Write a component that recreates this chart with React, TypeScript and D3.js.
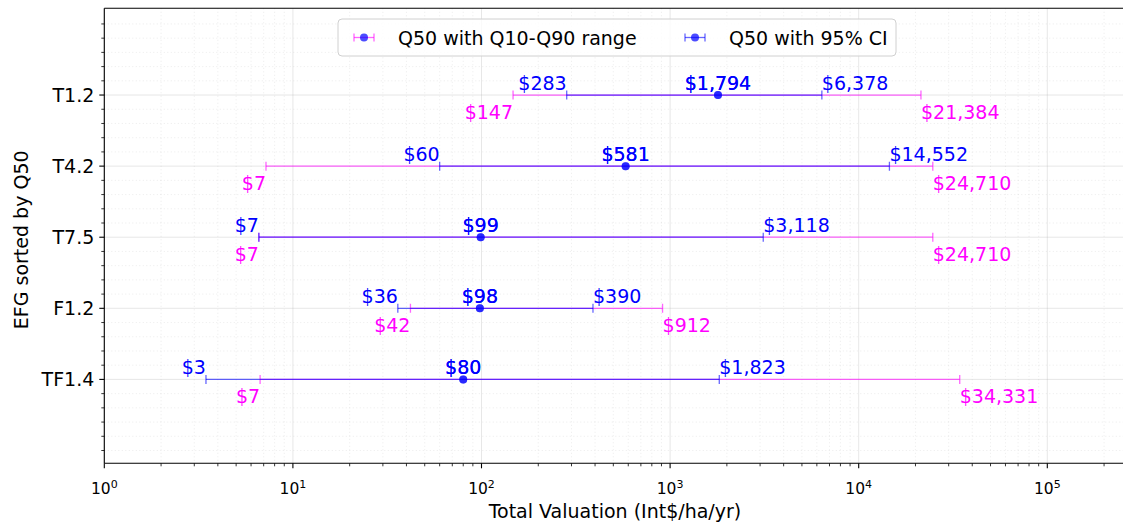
import React from "react";
import * as d3 from "d3";

const categories = ["TF1.4", "F1.2", "T7.5", "T4.2", "T1.2"];
const q50 = [80, 98, 99, 581, 1794];
const q10 = [6.7, 42, 6.6, 7.2, 147];
const q90 = [34331, 912, 24710, 24710, 21384];
const ciLow = [3.46, 36, 6.6, 60, 283];
const ciHigh = [1823, 390, 3118, 14552, 6378];
const xTickExps = [0, 1, 2, 3, 4, 5];
const legendLabels = ["Q50 with Q10-Q90 range", "Q50 with 95% CI"];

const W = 1123;
const H = 526;
const FONT = "DejaVu Sans, sans-serif";
const BLUE = "#0000ff";
const MAG = "#ff00ff";
const FS = 19;

export default function App() {
  const x = d3.scaleLog().domain([1, 2.6e5]).range([104.3, 104.3 + 188.6 * Math.log10(2.6e5)]);
  const y = d3.scaleLinear().domain([-1.18, 5.22]).range([463.3, 8.3]);
  const [x0, x1] = x.range();
  const yTop = y.range()[1];
  const yBot = y.range()[0];
  const fmt = (v: number) => "$" + d3.format(",.0f")(v);

  const minorX: number[] = [];
  for (let e = 0; e <= 5; e++) for (let m = 2; m <= 9; m++) {
    const v = m * Math.pow(10, e);
    if (v < x.domain()[1]) minorX.push(v);
  }
  const majorY = categories.map((_, i) => i);
  const minorY: number[] = d3.range(-5, 26).map((k) => k / 5).filter((v) => !(Number.isInteger(v) && v >= 0 && v <= 4));

  const cap = 4.5;
  const errbar = (lo: number, hi: number, yy: number, color: string, key: string) => (
    <g key={key} stroke={color} strokeOpacity={0.6} strokeWidth={1.3}>
      <line x1={x(lo)} x2={x(hi)} y1={y(yy)} y2={y(yy)} />
      <line x1={x(lo)} x2={x(lo)} y1={y(yy) - cap} y2={y(yy) + cap} />
      <line x1={x(hi)} x2={x(hi)} y1={y(yy) - cap} y2={y(yy) + cap} />
    </g>
  );

  return (
    <svg width={W} height={H} style={{ position: "absolute", left: 0, top: 0, background: "#fff" }} fontFamily={FONT}>
      <defs>
        <clipPath id="plot">
          <rect x={x0} y={yTop} width={x1 - x0} height={yBot - yTop} />
        </clipPath>
      </defs>
      {/* grid */}
      <g>
        {minorX.map((v) => (
          <line key={"mx" + v} x1={x(v)} x2={x(v)} y1={yTop} y2={yBot} stroke="#b0b0b0" strokeOpacity={0.3} strokeWidth={0.8} strokeDasharray="1,2.5" />
        ))}
        {minorY.map((v) => (
          <line key={"my" + v} x1={x0} x2={x1} y1={y(v)} y2={y(v)} stroke="#b0b0b0" strokeOpacity={0.3} strokeWidth={0.8} strokeDasharray="1,2.5" />
        ))}
        {xTickExps.map((e) => (
          <line key={"gx" + e} x1={x(Math.pow(10, e))} x2={x(Math.pow(10, e))} y1={yTop} y2={yBot} stroke="#b0b0b0" strokeOpacity={0.3} strokeWidth={1} />
        ))}
        {majorY.map((v) => (
          <line key={"gy" + v} x1={x0} x2={x1} y1={y(v)} y2={y(v)} stroke="#b0b0b0" strokeOpacity={0.3} strokeWidth={1} />
        ))}
      </g>
      {/* error bars */}
      <g clipPath="url(#plot)">
        {categories.map((c, i) => errbar(q10[i], q90[i], i, MAG, "m" + c))}
        {categories.map((c, i) => (
          <circle key={"md" + c} cx={x(q50[i])} cy={y(i)} r={4} fill={BLUE} fillOpacity={0.6} />
        ))}
        {categories.map((c, i) => errbar(ciLow[i], ciHigh[i], i, BLUE, "b" + c))}
        {categories.map((c, i) => (
          <circle key={"bd" + c} cx={x(q50[i])} cy={y(i)} r={4} fill={BLUE} fillOpacity={0.6} />
        ))}
      </g>
      {/* annotations */}
      <g fontSize={FS}>
        {categories.map((c, i) => (
          <g key={"t" + c}>
            <text x={x(q10[i])} y={y(i) + 24} fill={MAG} textAnchor="end">{fmt(q10[i])}</text>
            <text x={x(q90[i])} y={y(i) + 24} fill={MAG} textAnchor="start">{fmt(q90[i])}</text>
            <text x={x(ciLow[i])} y={y(i) - 5} fill={BLUE} textAnchor="end">{fmt(ciLow[i])}</text>
            <text x={x(ciHigh[i])} y={y(i) - 5} fill={BLUE} textAnchor="start">{fmt(ciHigh[i])}</text>
            <text x={x(q50[i])} y={y(i) - 5} fill={BLUE} textAnchor="middle">{fmt(q50[i])}</text>
            <text x={x(q50[i])} y={y(i) - 5} fill={BLUE} textAnchor="middle">{fmt(q50[i])}</text>
          </g>
        ))}
      </g>
      {/* spines */}
      <line x1={x0} x2={x0} y1={yTop} y2={yBot} stroke="#000" strokeWidth={1.1} />
      <line x1={x0} x2={x1} y1={yBot} y2={yBot} stroke="#000" strokeWidth={1.1} />
      <line x1={x0} x2={x1} y1={yTop} y2={yTop} stroke="#000" strokeWidth={1.1} />
      {/* x ticks */}
      <g>
        {minorX.map((v) => (
          <line key={"tmx" + v} x1={x(v)} x2={x(v)} y1={yBot} y2={yBot + 3} stroke="#000" strokeWidth={0.8} />
        ))}
        {xTickExps.map((e) => (
          <g key={"tx" + e} transform={`translate(${x(Math.pow(10, e))},${yBot})`}>
            <line y1={0} y2={5} stroke="#000" strokeWidth={1.1} />
            <text y={31} textAnchor="middle" fontSize={15.5} fill="#000">
              10<tspan fontSize={11} dy={-6}>{e}</tspan>
            </text>
          </g>
        ))}
      </g>
      {/* y ticks */}
      <g>
        {minorY.map((v) => (
          <line key={"tmy" + v} x1={x0 - 3} x2={x0} y1={y(v)} y2={y(v)} stroke="#000" strokeWidth={0.8} />
        ))}
        {categories.map((c, i) => (
          <g key={"ty" + c} transform={`translate(${x0},${y(i)})`}>
            <line x1={-5} x2={0} stroke="#000" strokeWidth={1.1} />
            <text x={-10} y={7} textAnchor="end" fontSize={FS} fill="#000">{c}</text>
          </g>
        ))}
      </g>
      {/* axis labels */}
      <text x={(x0 + x1) / 2} y={518} textAnchor="middle" fontSize={FS} fill="#000">Total Valuation (Int$/ha/yr)</text>
      <text transform={`translate(28,${(yTop + yBot) / 2 + 4}) rotate(-90)`} textAnchor="middle" fontSize={FS} fill="#000">EFG sorted by Q50</text>
      {/* legend */}
      <g>
        <rect x={338} y={19} width={558} height={37} rx={4} fill="#fff" fillOpacity={0.8} stroke="#d0d0d0" strokeWidth={1} />
        {[MAG, BLUE].map((col, k) => {
          const hx = k === 0 ? 364 : 695;
          const tx = k === 0 ? 398 : 729;
          const ly = 37.5;
          return (
            <g key={"lg" + k}>
              <g stroke={col} strokeOpacity={0.6} strokeWidth={1.3}>
                <line x1={hx - 10} x2={hx + 10} y1={ly} y2={ly} />
                <line x1={hx - 10} x2={hx - 10} y1={ly - 4} y2={ly + 4} />
                <line x1={hx + 10} x2={hx + 10} y1={ly - 4} y2={ly + 4} />
              </g>
              <circle cx={hx} cy={ly} r={4} fill={BLUE} fillOpacity={0.7} />
              <text x={tx} y={ly + 7} fontSize={FS} fill="#000">{legendLabels[k]}</text>
            </g>
          );
        })}
      </g>
    </svg>
  );
}
